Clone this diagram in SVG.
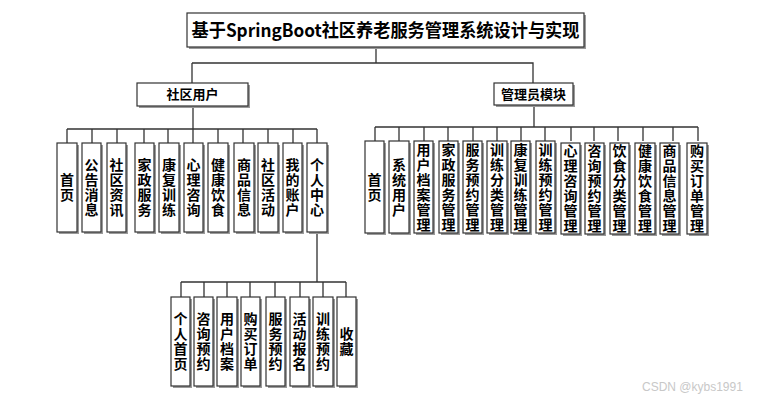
<svg xmlns="http://www.w3.org/2000/svg" width="768" height="400" viewBox="0 0 768 400">
<style>
.bx{fill:#fff;stroke:#333;stroke-width:1.2}
.sh{fill:#9a9a9a}
.t{font-family:"Noto Sans CJK SC","Liberation Sans",sans-serif;font-weight:bold;font-size:14px;fill:#000;text-anchor:middle}
.v{writing-mode:vertical-rl;letter-spacing:1px}
.ln{fill:none;stroke:#333;stroke-width:1.3}
.wm{font-family:"Liberation Sans",sans-serif;font-size:12px;fill:#c8c8c8}
</style>
<rect width="768" height="400" fill="#fff"/>
<g id="connectors">
<path class="ln" d="M376 47V63M192 63H533V83M192 63V83"/>
<path class="ln" d="M193 106V129M67 129H317M67 129V143M92 129V143M117 129V143M144 129V143M168 129V143M193 129V143M218 129V143M243 129V143M268 129V143M293 129V143M317 129V143"/>
<path class="ln" d="M534 105V127M375 127H698M375 127V141M399 127V141M424 127V141M448 127V141M473 127V141M497 127V141M521 127V141M545 127V141M571 127V141M594 127V141M618 127V141M643 127V141M673 127V141M698 127V141"/>
<path class="ln" style="stroke:#777;stroke-width:2" d="M317 232V282"/>
<path class="ln" d="M181 282H346M181 282V297M204 282V297M227 282V297M250 282V297M275 282V297M300 282V297M323 282V297M346 282V297"/>
</g>
<g id="title"><rect class="sh" x="189" y="15" width="397" height="34"/><rect class="bx" x="187" y="13" width="397" height="34"/><text class="t" x="385.5" y="37" style="font-size:18px" textLength="388" lengthAdjust="spacingAndGlyphs">基于SpringBoot社区养老服务管理系统设计与实现</text></g>
<g id="user"><rect class="sh" x="139" y="85" width="111" height="23"/><rect class="bx" x="137" y="83" width="111" height="23"/><text class="t" x="192.5" y="99" style="font-size:13px">社区用户</text></g>
<g id="admin"><rect class="sh" x="496" y="85" width="79" height="22"/><rect class="bx" x="494" y="83" width="79" height="22"/><text class="t" x="533.5" y="99" style="font-size:13px">管理员模块</text></g>

<g id="u1"><rect class="sh" x="59" y="145" width="20" height="89"/><rect class="bx" x="57" y="143" width="20" height="89"/><text class="t v" x="67" y="188">首页</text></g>
<g id="u2"><rect class="sh" x="84" y="145" width="19" height="89"/><rect class="bx" x="82" y="143" width="19" height="89"/><text class="t v" x="91.5" y="188">公告消息</text></g>
<g id="u3"><rect class="sh" x="109" y="145" width="19" height="89"/><rect class="bx" x="107" y="143" width="19" height="89"/><text class="t v" x="116.5" y="188">社区资讯</text></g>
<g id="u4"><rect class="sh" x="137" y="145" width="19" height="89"/><rect class="bx" x="135" y="143" width="19" height="89"/><text class="t v" x="144.5" y="188">家政服务</text></g>
<g id="u5"><rect class="sh" x="161" y="145" width="20" height="89"/><rect class="bx" x="159" y="143" width="20" height="89"/><text class="t v" x="169" y="188">康复训练</text></g>
<g id="u6"><rect class="sh" x="186" y="145" width="19" height="89"/><rect class="bx" x="184" y="143" width="19" height="89"/><text class="t v" x="193.5" y="188">心理咨询</text></g>
<g id="u7"><rect class="sh" x="210" y="145" width="20" height="89"/><rect class="bx" x="208" y="143" width="20" height="89"/><text class="t v" x="218" y="188">健康饮食</text></g>
<g id="u8"><rect class="sh" x="236" y="145" width="20" height="89"/><rect class="bx" x="234" y="143" width="20" height="89"/><text class="t v" x="244" y="188">商品信息</text></g>
<g id="u9"><rect class="sh" x="260" y="145" width="20" height="89"/><rect class="bx" x="258" y="143" width="20" height="89"/><text class="t v" x="268" y="188">社区活动</text></g>
<g id="u10"><rect class="sh" x="285" y="145" width="19" height="89"/><rect class="bx" x="283" y="143" width="19" height="89"/><text class="t v" x="292.5" y="188">我的账户</text></g>
<g id="u11"><rect class="sh" x="309" y="145" width="20" height="89"/><rect class="bx" x="307" y="143" width="20" height="89"/><text class="t v" x="317" y="188">个人中心</text></g>

<g id="a1"><rect class="sh" x="367" y="143" width="19" height="92"/><rect class="bx" x="365" y="141" width="19" height="92"/><text class="t v" x="374.5" y="187.5">首页</text></g>
<g id="a2"><rect class="sh" x="391" y="143" width="20" height="92"/><rect class="bx" x="389" y="141" width="20" height="92"/><text class="t v" x="399" y="187.5">系统用户</text></g>
<g id="a3"><rect class="sh" x="416" y="143" width="19" height="92"/><rect class="bx" x="414" y="141" width="19" height="92"/><text class="t v" x="423.5" y="187.5">用户档案管理</text></g>
<g id="a4"><rect class="sh" x="441" y="143" width="19" height="92"/><rect class="bx" x="439" y="141" width="19" height="92"/><text class="t v" x="448.5" y="187.5">家政服务管理</text></g>
<g id="a5"><rect class="sh" x="465" y="143" width="19" height="92"/><rect class="bx" x="463" y="141" width="19" height="92"/><text class="t v" x="472.5" y="187.5">服务预约管理</text></g>
<g id="a6"><rect class="sh" x="489" y="143" width="20" height="92"/><rect class="bx" x="487" y="141" width="20" height="92"/><text class="t v" x="497" y="187.5">训练分类管理</text></g>
<g id="a7"><rect class="sh" x="513" y="143" width="19" height="92"/><rect class="bx" x="511" y="141" width="19" height="92"/><text class="t v" x="520.5" y="187.5">康复训练管理</text></g>
<g id="a8"><rect class="sh" x="538" y="143" width="19" height="92"/><rect class="bx" x="536" y="141" width="19" height="92"/><text class="t v" x="545.5" y="187.5">训练预约管理</text></g>
<g id="a9"><rect class="sh" x="563" y="145" width="19" height="91"/><rect class="bx" x="561" y="143" width="19" height="91"/><text class="t v" x="570.5" y="189">心理咨询管理</text></g>
<g id="a10"><rect class="sh" x="587" y="145" width="19" height="91"/><rect class="bx" x="585" y="143" width="19" height="91"/><text class="t v" x="594.5" y="189">咨询预约管理</text></g>
<g id="a11"><rect class="sh" x="612" y="145" width="19" height="91"/><rect class="bx" x="610" y="143" width="19" height="91"/><text class="t v" x="619.5" y="189">饮食分类管理</text></g>
<g id="a12"><rect class="sh" x="637" y="145" width="20" height="91"/><rect class="bx" x="635" y="143" width="20" height="91"/><text class="t v" x="645" y="189">健康饮食管理</text></g>
<g id="a13"><rect class="sh" x="662" y="145" width="19" height="91"/><rect class="bx" x="660" y="143" width="19" height="91"/><text class="t v" x="669.5" y="189">商品信息管理</text></g>
<g id="a14"><rect class="sh" x="689" y="145" width="20" height="91"/><rect class="bx" x="687" y="143" width="20" height="91"/><text class="t v" x="697" y="189">购买订单管理</text></g>

<g id="p1"><rect class="sh" x="173" y="299" width="19" height="89"/><rect class="bx" x="171" y="297" width="19" height="89"/><text class="t v" x="180.5" y="342">个人首页</text></g>
<g id="p2"><rect class="sh" x="196" y="299" width="19" height="89"/><rect class="bx" x="194" y="297" width="19" height="89"/><text class="t v" x="203.5" y="342">咨询预约</text></g>
<g id="p3"><rect class="sh" x="219" y="299" width="20" height="89"/><rect class="bx" x="217" y="297" width="20" height="89"/><text class="t v" x="227" y="342">用户档案</text></g>
<g id="p4"><rect class="sh" x="243" y="299" width="19" height="89"/><rect class="bx" x="241" y="297" width="19" height="89"/><text class="t v" x="250.5" y="342">购买订单</text></g>
<g id="p5"><rect class="sh" x="268" y="299" width="19" height="89"/><rect class="bx" x="266" y="297" width="19" height="89"/><text class="t v" x="275.5" y="342">服务预约</text></g>
<g id="p6"><rect class="sh" x="292" y="299" width="19" height="89"/><rect class="bx" x="290" y="297" width="19" height="89"/><text class="t v" x="299.5" y="342">活动报名</text></g>
<g id="p7"><rect class="sh" x="315" y="299" width="20" height="89"/><rect class="bx" x="313" y="297" width="20" height="89"/><text class="t v" x="323" y="342">训练预约</text></g>
<g id="p8"><rect class="sh" x="339" y="299" width="19" height="89"/><rect class="bx" x="337" y="297" width="19" height="89"/><text class="t v" x="346.5" y="342">收藏</text></g>

<text class="wm" x="642" y="391">CSDN @kybs1991</text>
</svg>
